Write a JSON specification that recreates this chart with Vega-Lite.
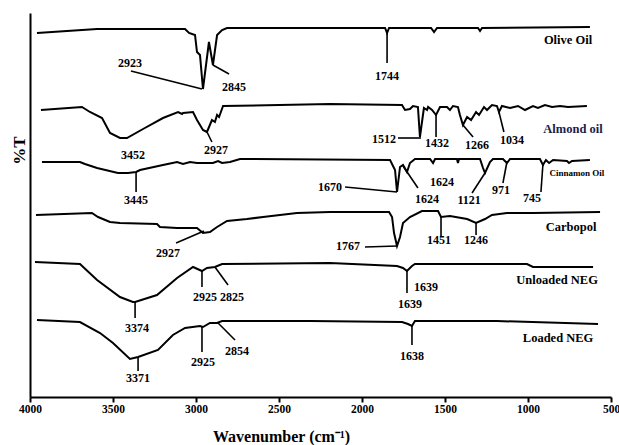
{
  "$schema": "https://vega.github.io/schema/vega-lite/v6.json",
  "width": 581,
  "height": 384,
  "autosize": {"type": "none"},
  "padding": {"left": 30, "top": 13, "right": 8, "bottom": 48},
  "background": "white",
  "config": {"view": {"stroke": null}, "font": "Liberation Serif"},
  "datasets": {
    "spectra": [
      {"s":"olive","wn":3958,"v":364},{"s":"olive","wn":3596,"v":368},{"s":"olive","wn":3066,"v":368},{"s":"olive","wn":3042,"v":364},{"s":"olive","wn":3006,"v":362},{"s":"olive","wn":2994,"v":345},{"s":"olive","wn":2976,"v":342},{"s":"olive","wn":2958,"v":308},{"s":"olive","wn":2922,"v":355},{"s":"olive","wn":2898,"v":332},{"s":"olive","wn":2873,"v":362},{"s":"olive","wn":2843,"v":367},{"s":"olive","wn":2813,"v":369},{"s":"olive","wn":1861,"v":369},{"s":"olive","wn":1849,"v":364},{"s":"olive","wn":1837,"v":369},{"s":"olive","wn":1584,"v":369},{"s":"olive","wn":1566,"v":365},{"s":"olive","wn":1548,"v":369},{"s":"olive","wn":1301,"v":369},{"s":"olive","wn":1289,"v":366},{"s":"olive","wn":1277,"v":369},{"s":"olive","wn":627,"v":370},
      {"s":"almond","wn":3934,"v":287},{"s":"almond","wn":3687,"v":290},{"s":"almond","wn":3639,"v":285},{"s":"almond","wn":3566,"v":279},{"s":"almond","wn":3518,"v":264},{"s":"almond","wn":3458,"v":259},{"s":"almond","wn":3416,"v":259},{"s":"almond","wn":3319,"v":268},{"s":"almond","wn":3199,"v":279},{"s":"almond","wn":3108,"v":285},{"s":"almond","wn":3084,"v":283},{"s":"almond","wn":3078,"v":284},{"s":"almond","wn":3018,"v":285},{"s":"almond","wn":2994,"v":277},{"s":"almond","wn":2958,"v":267},{"s":"almond","wn":2934,"v":265},{"s":"almond","wn":2904,"v":277},{"s":"almond","wn":2886,"v":275},{"s":"almond","wn":2873,"v":282},{"s":"almond","wn":2861,"v":280},{"s":"almond","wn":2837,"v":291},{"s":"almond","wn":2193,"v":293},{"s":"almond","wn":1759,"v":292},{"s":"almond","wn":1741,"v":287},{"s":"almond","wn":1711,"v":288},{"s":"almond","wn":1693,"v":291},{"s":"almond","wn":1663,"v":290},{"s":"almond","wn":1651,"v":260},{"s":"almond","wn":1627,"v":289},{"s":"almond","wn":1608,"v":287},{"s":"almond","wn":1602,"v":290},{"s":"almond","wn":1578,"v":287},{"s":"almond","wn":1554,"v":282},{"s":"almond","wn":1530,"v":290},{"s":"almond","wn":1488,"v":290},{"s":"almond","wn":1470,"v":287},{"s":"almond","wn":1452,"v":291},{"s":"almond","wn":1422,"v":290},{"s":"almond","wn":1410,"v":282},{"s":"almond","wn":1392,"v":272},{"s":"almond","wn":1367,"v":280},{"s":"almond","wn":1343,"v":277},{"s":"almond","wn":1313,"v":285},{"s":"almond","wn":1295,"v":282},{"s":"almond","wn":1265,"v":290},{"s":"almond","wn":1247,"v":287},{"s":"almond","wn":1217,"v":292},{"s":"almond","wn":1187,"v":291},{"s":"almond","wn":1175,"v":285},{"s":"almond","wn":1157,"v":291},{"s":"almond","wn":1108,"v":289},{"s":"almond","wn":1060,"v":291},{"s":"almond","wn":1018,"v":287},{"s":"almond","wn":970,"v":291},{"s":"almond","wn":940,"v":289},{"s":"almond","wn":898,"v":292},{"s":"almond","wn":855,"v":290},{"s":"almond","wn":807,"v":291},{"s":"almond","wn":759,"v":290},{"s":"almond","wn":645,"v":291},
      {"s":"cinnamon","wn":3928,"v":235},{"s":"cinnamon","wn":3699,"v":235},{"s":"cinnamon","wn":3669,"v":233},{"s":"cinnamon","wn":3596,"v":229},{"s":"cinnamon","wn":3470,"v":224},{"s":"cinnamon","wn":3410,"v":224},{"s":"cinnamon","wn":3361,"v":225},{"s":"cinnamon","wn":3337,"v":227},{"s":"cinnamon","wn":3199,"v":232},{"s":"cinnamon","wn":3114,"v":235},{"s":"cinnamon","wn":3078,"v":233},{"s":"cinnamon","wn":3036,"v":235},{"s":"cinnamon","wn":2994,"v":234},{"s":"cinnamon","wn":2898,"v":234},{"s":"cinnamon","wn":2867,"v":236},{"s":"cinnamon","wn":2843,"v":234},{"s":"cinnamon","wn":2795,"v":235},{"s":"cinnamon","wn":2735,"v":238},{"s":"cinnamon","wn":1831,"v":237},{"s":"cinnamon","wn":1801,"v":227},{"s":"cinnamon","wn":1789,"v":205},{"s":"cinnamon","wn":1771,"v":230},{"s":"cinnamon","wn":1753,"v":232},{"s":"cinnamon","wn":1729,"v":225},{"s":"cinnamon","wn":1711,"v":234},{"s":"cinnamon","wn":1681,"v":238},{"s":"cinnamon","wn":1590,"v":238},{"s":"cinnamon","wn":1572,"v":234},{"s":"cinnamon","wn":1560,"v":238},{"s":"cinnamon","wn":1428,"v":238},{"s":"cinnamon","wn":1422,"v":234},{"s":"cinnamon","wn":1416,"v":238},{"s":"cinnamon","wn":1289,"v":238},{"s":"cinnamon","wn":1271,"v":229},{"s":"cinnamon","wn":1259,"v":224},{"s":"cinnamon","wn":1229,"v":235},{"s":"cinnamon","wn":1211,"v":238},{"s":"cinnamon","wn":1151,"v":238},{"s":"cinnamon","wn":1127,"v":234},{"s":"cinnamon","wn":1108,"v":238},{"s":"cinnamon","wn":928,"v":238},{"s":"cinnamon","wn":910,"v":232},{"s":"cinnamon","wn":892,"v":237},{"s":"cinnamon","wn":873,"v":234},{"s":"cinnamon","wn":849,"v":237},{"s":"cinnamon","wn":765,"v":236},{"s":"cinnamon","wn":753,"v":234},{"s":"cinnamon","wn":735,"v":236},{"s":"cinnamon","wn":627,"v":237},
      {"s":"carbopol","wn":3964,"v":182},{"s":"carbopol","wn":3627,"v":184},{"s":"carbopol","wn":3590,"v":180},{"s":"carbopol","wn":3518,"v":175},{"s":"carbopol","wn":3458,"v":174},{"s":"carbopol","wn":3235,"v":173},{"s":"carbopol","wn":3217,"v":170},{"s":"carbopol","wn":3114,"v":169},{"s":"carbopol","wn":2994,"v":169},{"s":"carbopol","wn":2958,"v":164},{"s":"carbopol","wn":2916,"v":165},{"s":"carbopol","wn":2873,"v":170},{"s":"carbopol","wn":2813,"v":176},{"s":"carbopol","wn":2693,"v":178},{"s":"carbopol","wn":2596,"v":180},{"s":"carbopol","wn":2494,"v":182},{"s":"carbopol","wn":2392,"v":184},{"s":"carbopol","wn":2193,"v":185},{"s":"carbopol","wn":1837,"v":185},{"s":"carbopol","wn":1819,"v":180},{"s":"carbopol","wn":1807,"v":164},{"s":"carbopol","wn":1789,"v":151},{"s":"carbopol","wn":1771,"v":160},{"s":"carbopol","wn":1753,"v":174},{"s":"carbopol","wn":1711,"v":180},{"s":"carbopol","wn":1639,"v":186},{"s":"carbopol","wn":1542,"v":186},{"s":"carbopol","wn":1524,"v":180},{"s":"carbopol","wn":1470,"v":181},{"s":"carbopol","wn":1367,"v":178},{"s":"carbopol","wn":1313,"v":174},{"s":"carbopol","wn":1259,"v":178},{"s":"carbopol","wn":1217,"v":182},{"s":"carbopol","wn":1127,"v":184},{"s":"carbopol","wn":970,"v":184},{"s":"carbopol","wn":566,"v":185},
      {"s":"unloaded","wn":3970,"v":135},{"s":"unloaded","wn":3699,"v":133},{"s":"unloaded","wn":3596,"v":117},{"s":"unloaded","wn":3458,"v":100},{"s":"unloaded","wn":3380,"v":95},{"s":"unloaded","wn":3367,"v":95},{"s":"unloaded","wn":3235,"v":102},{"s":"unloaded","wn":3114,"v":119},{"s":"unloaded","wn":3018,"v":130},{"s":"unloaded","wn":2964,"v":126},{"s":"unloaded","wn":2934,"v":129},{"s":"unloaded","wn":2886,"v":130},{"s":"unloaded","wn":2843,"v":133},{"s":"unloaded","wn":2193,"v":134},{"s":"unloaded","wn":1789,"v":131},{"s":"unloaded","wn":1753,"v":129},{"s":"unloaded","wn":1729,"v":126},{"s":"unloaded","wn":1699,"v":131},{"s":"unloaded","wn":1681,"v":133},{"s":"unloaded","wn":1006,"v":133},{"s":"unloaded","wn":970,"v":130},{"s":"unloaded","wn":608,"v":130},
      {"s":"loaded","wn":3958,"v":77},{"s":"loaded","wn":3699,"v":75},{"s":"loaded","wn":3578,"v":64},{"s":"loaded","wn":3500,"v":54},{"s":"loaded","wn":3398,"v":38},{"s":"loaded","wn":3349,"v":40},{"s":"loaded","wn":3229,"v":47},{"s":"loaded","wn":3139,"v":62},{"s":"loaded","wn":3066,"v":69},{"s":"loaded","wn":2976,"v":71},{"s":"loaded","wn":2958,"v":70},{"s":"loaded","wn":2916,"v":74},{"s":"loaded","wn":2873,"v":74},{"s":"loaded","wn":2843,"v":76},{"s":"loaded","wn":2313,"v":76},{"s":"loaded","wn":1759,"v":75},{"s":"loaded","wn":1723,"v":73},{"s":"loaded","wn":1699,"v":71},{"s":"loaded","wn":1681,"v":76},{"s":"loaded","wn":1187,"v":76},{"s":"loaded","wn":578,"v":73}
    ],
    "leaders": [
      {"wn":3392,"v":326,"wn2":2964,"v2":308},{"wn":2898,"v":332,"wn2":2801,"v2":323},{"wn":1849,"v":364,"wn2":1849,"v2":334},
      {"wn":2934,"v":265,"wn2":2904,"v2":255},{"wn":1783,"v":259,"wn2":1645,"v2":259},{"wn":1554,"v":282,"wn2":1554,"v2":260},{"wn":1392,"v":272,"wn2":1331,"v2":260},{"wn":1175,"v":285,"wn2":1145,"v2":265},
      {"wn":3361,"v":225,"wn2":3361,"v2":205},{"wn":2102,"v":210,"wn2":1789,"v2":205},{"wn":1753,"v":231,"wn2":1663,"v2":209},{"wn":1259,"v":224,"wn2":1337,"v2":204},{"wn":1127,"v":235,"wn2":1151,"v2":214},{"wn":910,"v":233,"wn2":922,"v2":205},
      {"wn":2952,"v":166,"wn2":3120,"v2":154},{"wn":1982,"v":150,"wn2":1789,"v2":151},{"wn":1524,"v":180,"wn2":1524,"v2":160},{"wn":1313,"v":174,"wn2":1313,"v2":162},
      {"wn":3367,"v":95,"wn2":3367,"v2":79},{"wn":2964,"v":126,"wn2":2964,"v2":110},{"wn":2886,"v":130,"wn2":2807,"v2":112},{"wn":1729,"v":126,"wn2":1729,"v2":104},
      {"wn":3349,"v":40,"wn2":3349,"v2":26},{"wn":2964,"v":70,"wn2":2964,"v2":45},{"wn":2867,"v":74,"wn2":2765,"v2":57},{"wn":1699,"v":72,"wn2":1699,"v2":52}
    ],
    "peaks": [
      {"wn":3398,"v":334,"t":"2923"},{"wn":2771,"v":310,"t":"2845"},{"wn":1849,"v":321,"t":"1744"},
      {"wn":3380,"v":242,"t":"3452"},{"wn":2880,"v":247,"t":"2927"},{"wn":1867,"v":258,"t":"1512"},{"wn":1548,"v":254,"t":"1432"},{"wn":1307,"v":252,"t":"1266"},{"wn":1096,"v":257,"t":"1034"},
      {"wn":3361,"v":197,"t":"3445"},{"wn":2193,"v":210,"t":"1670"},{"wn":1518,"v":215,"t":"1624"},{"wn":1608,"v":198,"t":"1624"},{"wn":1355,"v":197,"t":"1121"},{"wn":1163,"v":207,"t":"971"},{"wn":976,"v":199,"t":"745"},
      {"wn":3169,"v":144,"t":"2927"},{"wn":2084,"v":151,"t":"1767"},{"wn":1536,"v":157,"t":"1451"},{"wn":1313,"v":157,"t":"1246"},
      {"wn":3355,"v":69,"t":"3374"},{"wn":2946,"v":100,"t":"2925"},{"wn":2783,"v":100,"t":"2825"},{"wn":1614,"v":110,"t":"1639"},{"wn":1711,"v":93,"t":"1639"},
      {"wn":3349,"v":19,"t":"3371"},{"wn":2958,"v":35,"t":"2925"},{"wn":2753,"v":46,"t":"2854"},{"wn":1699,"v":41,"t":"1638"}
    ],
    "names": [
      {"wn":759,"v":357,"t":"Olive Oil","k":"std"},
      {"wn":729,"v":268,"t":"Almond oil","k":"almond"},
      {"wn":705,"v":224,"t":"Cinnamon Oil","k":"small"},
      {"wn":741,"v":170,"t":"Carbopol","k":"std"},
      {"wn":825,"v":117,"t":"Unloaded NEG","k":"std"},
      {"wn":819,"v":59,"t":"Loaded NEG","k":"std"}
    ]
  },
  "layer": [
    {
      "data": {"name": "spectra"},
      "mark": {"type": "line", "color": "black", "strokeWidth": 2},
      "encoding": {
        "x": {"field": "wn", "type": "quantitative",
          "scale": {"domain": [500, 4000], "reverse": true, "nice": false, "zero": false},
          "axis": {"title": "Wavenumber (cm⁻¹)", "values": [4000,3500,3000,2500,2000,1500,1000,500], "format": "d",
            "grid": false, "domainColor": "black", "domainWidth": 2, "tickColor": "black", "tickWidth": 2, "tickSize": 5,
            "labelFont": "Liberation Serif", "labelFontWeight": "bold", "labelFontSize": 11.5, "labelColor": "black", "labelPadding": 1, "labelFlush": false, "labelOverlap": false,
            "titleFont": "Liberation Serif", "titleFontWeight": "bold", "titleFontSize": 16, "titleColor": "black",
            "titleX": 251, "titleY": 39, "titleAlign": "center", "titleBaseline": "middle"}},
        "y": {"field": "v", "type": "quantitative",
          "scale": {"domain": [0, 384], "nice": false, "zero": false},
          "axis": {"title": "%T", "grid": false, "ticks": false, "labels": false, "domainColor": "black", "domainWidth": 2,
            "titleFont": "Liberation Serif", "titleFontWeight": "bold", "titleFontSize": 17, "titleColor": "black",
            "titleAngle": -90, "titleX": -11, "titleY": 137, "titleAlign": "center", "titleBaseline": "middle"}},
        "detail": {"field": "s"}
      }
    },
    {
      "data": {"name": "leaders"},
      "mark": {"type": "rule", "color": "black", "strokeWidth": 1.6},
      "encoding": {
        "x": {"field": "wn", "type": "quantitative"},
        "x2": {"field": "wn2"},
        "y": {"field": "v", "type": "quantitative"},
        "y2": {"field": "v2"}
      }
    },
    {
      "data": {"name": "peaks"},
      "mark": {"type": "text", "font": "Liberation Serif", "fontWeight": "bold", "fontSize": 12, "color": "black", "align": "center", "baseline": "middle"},
      "encoding": {
        "x": {"field": "wn", "type": "quantitative"},
        "y": {"field": "v", "type": "quantitative"},
        "text": {"field": "t"}
      }
    },
    {
      "data": {"name": "names"},
      "transform": [{"filter": "datum.k === 'std'"}],
      "mark": {"type": "text", "font": "Liberation Serif", "fontWeight": "bold", "fontSize": 12.5, "color": "black", "align": "center", "baseline": "middle"},
      "encoding": {
        "x": {"field": "wn", "type": "quantitative"},
        "y": {"field": "v", "type": "quantitative"},
        "text": {"field": "t"}
      }
    },
    {
      "data": {"name": "names"},
      "transform": [{"filter": "datum.k === 'almond'"}],
      "mark": {"type": "text", "font": "Liberation Serif", "fontWeight": "bold", "fontSize": 12.5, "color": "#1c1c4a", "align": "center", "baseline": "middle"},
      "encoding": {
        "x": {"field": "wn", "type": "quantitative"},
        "y": {"field": "v", "type": "quantitative"},
        "text": {"field": "t"}
      }
    },
    {
      "data": {"name": "names"},
      "transform": [{"filter": "datum.k === 'small'"}],
      "mark": {"type": "text", "font": "Liberation Serif", "fontWeight": "bold", "fontSize": 9, "color": "black", "align": "center", "baseline": "middle"},
      "encoding": {
        "x": {"field": "wn", "type": "quantitative"},
        "y": {"field": "v", "type": "quantitative"},
        "text": {"field": "t"}
      }
    }
  ]
}
